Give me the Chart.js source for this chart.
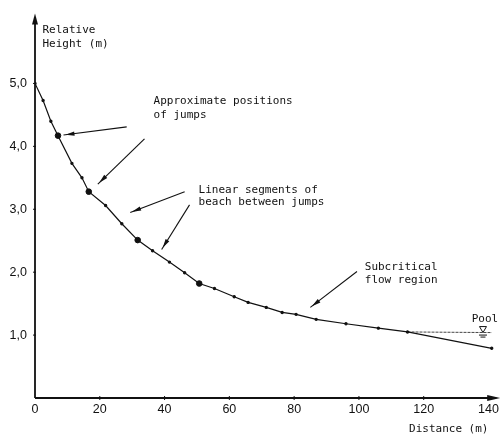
<!DOCTYPE html>
<html>
<head>
<meta charset="utf-8">
<script src="https://cdn.jsdelivr.net/npm/chart.js@4/dist/chart.umd.min.js"></script>
<style>
  html, body { margin: 0; padding: 0; background: #fff; }
  #wrap { width: 503px; height: 436px; }
</style>
</head>
<body>
<div id="wrap"><canvas id="myChart" width="503" height="436"></canvas></div>
<script>
// beach profile (distance in m, relative height in m)
const distance = [0, 2.5, 4.9, 7.1, 11.4, 14.5, 16.6, 21.8, 26.8, 31.7, 36.3, 41.5, 46.2, 50.7,
                  55.4, 61.5, 65.8, 71.4, 76.3, 80.6, 86.8, 96, 106, 115, 141];
const height = [5.0, 4.73, 4.40, 4.17, 3.73, 3.50, 3.28, 3.06, 2.77, 2.51, 2.34, 2.16, 1.99, 1.82,
                1.74, 1.61, 1.52, 1.44, 1.36, 1.33, 1.25, 1.18, 1.11, 1.05, 0.79];
// approximate positions of jumps (big dots)
const jumpDistance = [7.1, 16.6, 31.7, 50.7];
const jumpHeight = [4.17, 3.28, 2.51, 1.82];
// pool water level
const poolDistance = [115, 141];
const poolHeight = [1.05, 1.04];

const xTicks = [0, 20, 40, 60, 80, 100, 120, 140];
const yTicks = [1, 2, 3, 4, 5];

// annotation texts, positioned in data units
const notes = [
  { text: 'Relative', x: 2.3, y: 5.84 },
  { text: 'Height (m)', x: 2.3, y: 5.62 },
  { text: 'Approximate positions', x: 36.6, y: 4.72 },
  { text: 'of jumps', x: 36.6, y: 4.49 },
  { text: 'Linear segments of', x: 50.5, y: 3.31 },
  { text: 'beach between jumps', x: 50.5, y: 3.12 },
  { text: 'Subcritical', x: 101.8, y: 2.08 },
  { text: 'flow region', x: 101.8, y: 1.87 },
  { text: 'Pool', x: 134.8, y: 1.26 }
];
// arrows: from [x, y] to [x, y]
const arrows = [
  [[28.3, 4.31], [8.8, 4.18]],
  [[33.8, 4.12], [19.4, 3.40]],
  [[46.2, 3.28], [29.4, 2.95]],
  [[47.7, 3.07], [39.1, 2.36]],
  [[99.4, 2.01], [85.0, 1.44]]
];

const ink = '#111';
const mono = '"DejaVu Sans Mono", monospace';

function arrowHead(ctx, x1, y1, x2, y2, len, half) {
  const a = Math.atan2(y2 - y1, x2 - x1);
  ctx.beginPath();
  ctx.moveTo(x2, y2);
  ctx.lineTo(x2 - len * Math.cos(a) + half * Math.sin(a), y2 - len * Math.sin(a) - half * Math.cos(a));
  ctx.lineTo(x2 - len * Math.cos(a) - half * Math.sin(a), y2 - len * Math.sin(a) + half * Math.cos(a));
  ctx.closePath();
  ctx.fill();
}

const extras = {
  id: 'extras',
  afterDraw(chart) {
    const ctx = chart.ctx;
    const xs = chart.scales.x, ys = chart.scales.y;
    const area = chart.chartArea;
    ctx.save();
    ctx.strokeStyle = ink;
    ctx.fillStyle = ink;

    // axes with arrow tips
    ctx.lineWidth = 1.8;
    ctx.beginPath();
    ctx.moveTo(area.left, area.bottom);
    ctx.lineTo(area.left, area.top + 2);
    ctx.moveTo(area.left, area.bottom);
    ctx.lineTo(area.right - 2, area.bottom);
    ctx.stroke();
    arrowHead(ctx, area.left, area.bottom, area.left, area.top - 2, 11, 3);
    arrowHead(ctx, area.left, area.bottom, area.right + 2, area.bottom, 13, 3);

    // small tick marks
    ctx.lineWidth = 1;
    ctx.beginPath();
    xTicks.slice(1).forEach(v => {
      const px = xs.getPixelForValue(v);
      ctx.moveTo(px, area.bottom - 2); ctx.lineTo(px, area.bottom + 2);
    });
    yTicks.forEach(v => {
      const py = ys.getPixelForValue(v);
      ctx.moveTo(area.left - 2, py); ctx.lineTo(area.left + 1, py);
    });
    ctx.stroke();

    // annotation arrows
    ctx.lineWidth = 1.1;
    arrows.forEach(([from, to]) => {
      const x1 = xs.getPixelForValue(from[0]), y1 = ys.getPixelForValue(from[1]);
      const x2 = xs.getPixelForValue(to[0]), y2 = ys.getPixelForValue(to[1]);
      ctx.beginPath();
      ctx.moveTo(x1, y1);
      ctx.lineTo(x2, y2);
      ctx.stroke();
      const a = Math.atan2(y2 - y1, x2 - x1);
      arrowHead(ctx, x1, y1, x2 - 2 * Math.cos(a), y2 - 2 * Math.sin(a), 9, 2.2);
    });

    // notes
    ctx.font = '11px ' + mono;
    ctx.textAlign = 'left';
    ctx.textBaseline = 'middle';
    notes.forEach(n => {
      ctx.fillText(n.text, xs.getPixelForValue(n.x), ys.getPixelForValue(n.y));
    });

    // water level symbol at pool
    const px = xs.getPixelForValue(138.3), py = ys.getPixelForValue(poolHeight[1]);
    ctx.lineWidth = 1;
    ctx.beginPath();
    ctx.moveTo(px - 3.5, py - 6);
    ctx.lineTo(px + 3.5, py - 6);
    ctx.lineTo(px, py);
    ctx.closePath();
    ctx.stroke();
    ctx.beginPath();
    ctx.moveTo(px - 4, py + 2.5); ctx.lineTo(px + 4, py + 2.5);
    ctx.moveTo(px - 2.5, py + 4.5); ctx.lineTo(px + 2.5, py + 4.5);
    ctx.stroke();

    // x axis title
    ctx.textAlign = 'right';
    ctx.fillText('Distance (m)', xs.getPixelForValue(140), area.bottom + 31);
    ctx.restore();
  }
};

const ctx = document.getElementById('myChart').getContext('2d');
const myChart = new Chart(ctx, {
  type: 'scatter',
  data: {
    datasets: [
      {
        label: 'Beach',
        data: distance.map((d, i) => ({ x: d, y: height[i] })),
        showLine: true,
        borderColor: ink,
        backgroundColor: ink,
        borderWidth: 1.2,
        pointRadius: 1.1,
        pointHoverRadius: 1.1
      },
      {
        label: 'Jumps',
        data: jumpDistance.map((d, i) => ({ x: d, y: jumpHeight[i] })),
        showLine: false,
        borderColor: ink,
        backgroundColor: ink,
        pointRadius: 2.8,
        pointHoverRadius: 2.8
      },
      {
        label: 'Pool',
        data: poolDistance.map((d, i) => ({ x: d, y: poolHeight[i] })),
        showLine: true,
        borderColor: '#444',
        borderWidth: 1,
        borderDash: [3, 1],
        pointRadius: 0
      }
    ]
  },
  options: {
    responsive: false,
    animation: false,
    events: [],
    layout: { padding: { top: 9, right: 3, left: 0, bottom: 0 } },
    scales: {
      x: {
        type: 'linear',
        min: 0,
        max: 143,
        afterBuildTicks: s => { s.ticks = xTicks.map(v => ({ value: v })); },
        afterFit: s => { s.height = 38; },
        grid: { display: false, drawTicks: false },
        border: { display: false },
        ticks: {
          padding: 4,
          color: ink,
          font: { family: '"Liberation Sans", Arial, sans-serif', size: 12.5 },
          maxRotation: 0
        }
      },
      y: {
        type: 'linear',
        min: 0,
        max: 6.08,
        afterBuildTicks: s => { s.ticks = yTicks.map(v => ({ value: v })); },
        afterFit: s => { s.width = 35; },
        grid: { display: false, drawTicks: false },
        border: { display: false },
        ticks: {
          padding: 8,
          color: ink,
          font: { family: '"Liberation Sans", Arial, sans-serif', size: 12.5 },
          callback: v => v.toFixed(1).replace('.', ',')
        }
      }
    },
    plugins: {
      legend: { display: false },
      tooltip: { enabled: false }
    }
  },
  plugins: [extras]
});
</script>
</body>
</html>
